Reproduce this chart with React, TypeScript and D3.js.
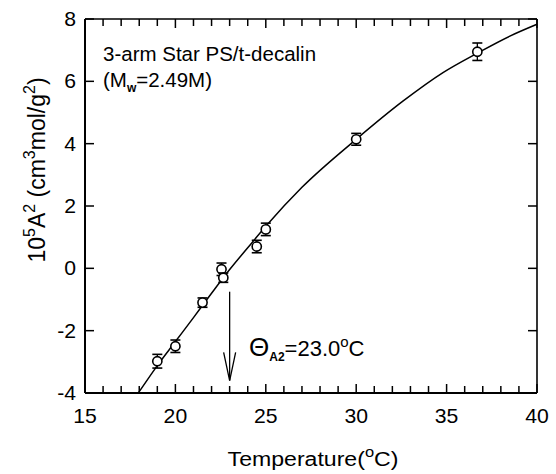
import React from "react";
import * as d3 from "d3";

const temps = [19.0, 20.0, 21.5, 22.55, 22.65, 24.5, 25.0, 30.0, 36.7];
const a2 = [-2.98, -2.5, -1.1, -0.03, -0.3, 0.7, 1.25, 4.14, 6.95];
const errs = [0.22, 0.2, 0.15, 0.2, 0.15, 0.2, 0.2, 0.19, 0.28];

const fitT = [17.95, 19, 20, 21, 22, 23, 24, 25, 27, 30, 32.6, 34.8, 36.75, 38.5, 40];
const fitA = [-4, -3.12, -2.35, -1.58, -0.8, -0.04, 0.66, 1.35, 2.6, 4.14, 5.37, 6.28, 6.92, 7.45, 7.83];

const xMajor = [15, 20, 25, 30, 35, 40];
const xMinor = d3.range(15, 41, 1);
const yMajor = [-4, -2, 0, 2, 4, 6, 8];

const thetaT = 23.0;

const W = 556;
const H = 474;
const L = 85, R = 537, T = 19, B = 393;
const FONT = "'Liberation Sans', Arial, Helvetica, sans-serif";

export default function App() {
  const x = d3.scaleLinear().domain([15, 40]).range([L, R]);
  const y = d3.scaleLinear().domain([-4, 8]).range([B, T]);
  const line = d3
    .line<number>()
    .x((_, i) => x(fitT[i]))
    .y((d) => y(d))
    .curve(d3.curveMonotoneX);

  const ax = x(thetaT);
  const sx = 1.06;

  const xTicks = xMinor.map((v) => ({ px: x(v), len: xMajor.includes(v) ? 9 : 7 }));
  const yTicks = yMajor.map((v) => y(v));

  return (
    <svg
      width={W}
      height={H}
      style={{ position: "absolute", left: 0, top: 0, background: "#fff" }}
      fontFamily={FONT}
    >
      <rect x={0} y={0} width={W} height={H} fill="#fff" />
      {/* frame */}
      <line x1={L} y1={T} x2={L} y2={B} stroke="#000" strokeWidth={2} />
      <line x1={L} y1={B} x2={R} y2={B} stroke="#000" strokeWidth={2} />
      <line x1={L} y1={T} x2={R} y2={T} stroke="#000" strokeWidth={1.6} />
      <line x1={R} y1={T} x2={R} y2={B} stroke="#000" strokeWidth={1.6} />
      {/* ticks */}
      {xTicks.map((t, i) => (
        <g key={"xt" + i}>
          <line x1={t.px} x2={t.px} y1={B} y2={B - t.len} stroke="#000" strokeWidth={1.5} />
          <line x1={t.px} x2={t.px} y1={T} y2={T + t.len} stroke="#000" strokeWidth={1.5} />
        </g>
      ))}
      {yTicks.map((py, i) => (
        <g key={"yt" + i}>
          <line x1={L} x2={L + 9} y1={py} y2={py} stroke="#000" strokeWidth={1.5} />
          <line x1={R} x2={R - 9} y1={py} y2={py} stroke="#000" strokeWidth={1.5} />
        </g>
      ))}

      {xMajor.map((v) => (
        <text
          key={"xl" + v}
          transform={`translate(${x(v)},${B + 30}) scale(${sx},1)`}
          textAnchor="middle"
          fontSize={20}
          fill="#000"
        >
          {v}
        </text>
      ))}

      {yMajor.map((v) => (
        <text
          key={"yl" + v}
          transform={`translate(${L - 9},${y(v) + 7}) scale(${sx},1)`}
          textAnchor="end"
          fontSize={20}
          fill="#000"
        >
          {v}
        </text>
      ))}

      <path d={line(fitA) || ""} fill="none" stroke="#000" strokeWidth={1.5} />

      {temps.map((t, i) => {
        const cx = x(t);
        const cy = y(a2[i]);
        const yt = y(a2[i] + errs[i]);
        const yb = y(a2[i] - errs[i]);
        return (
          <g key={"p" + i}>
            <line x1={cx} x2={cx} y1={yt} y2={yb} stroke="#000" strokeWidth={1.3} />
            <line x1={cx - 5} x2={cx + 5} y1={yt} y2={yt} stroke="#000" strokeWidth={1.6} />
            <line x1={cx - 5} x2={cx + 5} y1={yb} y2={yb} stroke="#000" strokeWidth={1.6} />
            <circle cx={cx} cy={cy} r={4.6} fill="#fff" stroke="#000" strokeWidth={1.6} />
          </g>
        );
      })}

      <line x1={ax} x2={ax} y1={y(-0.75)} y2={y(-3.6)} stroke="#000" strokeWidth={1.3} />
      <polyline
        points={`${ax - 6},${y(-2.7)} ${ax},${y(-3.6)} ${ax + 6},${y(-2.7)}`}
        fill="none"
        stroke="#000"
        strokeWidth={1.3}
      />
      <text x={249} y={356} fontSize={22} fill="#000">
        <tspan fontSize={26}>Θ</tspan>
        <tspan fontSize={12} fontWeight="bold" dy={5}>A2</tspan>
        <tspan dy={-5}>=23.0</tspan>
        <tspan fontSize={15} dy={-9}>o</tspan>
        <tspan dy={9}>C</tspan>
      </text>

      <text x={103} y={61} fontSize={20.5} fill="#000">3-arm Star PS/t-decalin</text>
      <text x={103} y={87} fontSize={20.5} fill="#000">
        <tspan>(M</tspan>
        <tspan fontSize={12} fontWeight="bold" dy={5}>w</tspan>
        <tspan dy={-5}>=2.49M)</tspan>
      </text>

      <text
        transform={`translate(${(223 + 403) / 2},466) scale(1.1,1)`}
        textAnchor="middle"
        fontSize={21}
        fill="#000"
      >
        <tspan>Temperature(</tspan>
        <tspan fontSize={15} dy={-9}>o</tspan>
        <tspan dy={9}>C)</tspan>
      </text>

      <text
        transform={`translate(45,170) rotate(-90)`}
        textAnchor="middle"
        fontSize={23}
        fill="#000"
      >
        <tspan>10</tspan>
        <tspan fontSize={16} dy={-10}>5</tspan>
        <tspan dy={10}>A</tspan>
        <tspan fontSize={16} dy={-10}>2</tspan>
        <tspan dy={10}> (cm</tspan>
        <tspan fontSize={16} dy={-10}>3</tspan>
        <tspan dy={10}>mol/g</tspan>
        <tspan fontSize={16} dy={-10}>2</tspan>
        <tspan dy={10}>)</tspan>
      </text>
    </svg>
  );
}
